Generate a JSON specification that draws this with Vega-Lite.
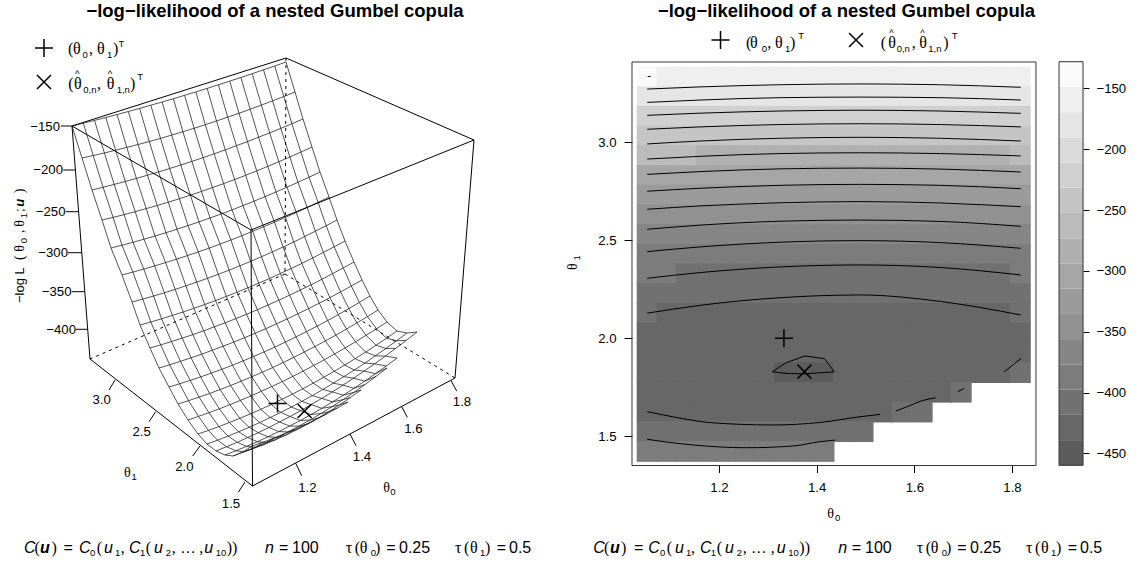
{"$schema":"https://vega.github.io/schema/vega-lite/v6.json","width":1144,"height":564,"autosize":"none","padding":0,"background":"white","config":{"view":{"stroke":null},"text":{"font":"Liberation Sans","color":"#000"}},
"datasets":{"grid":[
{"t0":1.053,"t1":3.333,"z":-148,"x":72,"y":126},{"t0":1.093,"t1":3.333,"z":-154,"x":83.3,"y":123.2},{"t0":1.133,"t1":3.333,"z":-155,"x":94.5,"y":120.4},{"t0":1.174,"t1":3.333,"z":-157,"x":105.8,"y":117.5},{"t0":1.214,"t1":3.333,"z":-158,"x":117.1,"y":114.5},{"t0":1.254,"t1":3.333,"z":-159,"x":128.3,"y":111.5},{"t0":1.294,"t1":3.333,"z":-159,"x":139.6,"y":108.4},{"t0":1.334,"t1":3.333,"z":-160,"x":150.8,"y":105.2},{"t0":1.375,"t1":3.333,"z":-160,"x":162.1,"y":102},{"t0":1.415,"t1":3.333,"z":-160,"x":173.4,"y":98.7},{"t0":1.455,"t1":3.333,"z":-160,"x":184.6,"y":95.3},{"t0":1.495,"t1":3.333,"z":-160,"x":195.9,"y":91.9},{"t0":1.535,"t1":3.333,"z":-159,"x":207.2,"y":88.4},{"t0":1.575,"t1":3.333,"z":-159,"x":218.4,"y":84.8},{"t0":1.616,"t1":3.333,"z":-158,"x":229.7,"y":81.1},{"t0":1.656,"t1":3.333,"z":-157,"x":240.9,"y":77.5},{"t0":1.696,"t1":3.333,"z":-156,"x":252.2,"y":73.7},{"t0":1.736,"t1":3.333,"z":-155,"x":263.5,"y":69.8},{"t0":1.776,"t1":3.333,"z":-153,"x":274.7,"y":66},{"t0":1.817,"t1":3.333,"z":-152,"x":286,"y":62},
{"t0":1.053,"t1":3.232,"z":-181,"x":82,"y":158},{"t0":1.093,"t1":3.232,"z":-183,"x":93.2,"y":155.5},{"t0":1.133,"t1":3.232,"z":-184,"x":104.4,"y":153},{"t0":1.174,"t1":3.232,"z":-186,"x":115.6,"y":150.2},{"t0":1.214,"t1":3.232,"z":-187,"x":126.8,"y":147.4},{"t0":1.254,"t1":3.232,"z":-188,"x":138.1,"y":144.5},{"t0":1.294,"t1":3.232,"z":-188,"x":149.3,"y":141.5},{"t0":1.334,"t1":3.232,"z":-189,"x":160.5,"y":138.4},{"t0":1.375,"t1":3.232,"z":-189,"x":171.7,"y":135.1},{"t0":1.415,"t1":3.232,"z":-189,"x":182.9,"y":131.7},{"t0":1.455,"t1":3.232,"z":-189,"x":194.1,"y":128.3},{"t0":1.495,"t1":3.232,"z":-189,"x":205.3,"y":124.7},{"t0":1.535,"t1":3.232,"z":-188,"x":216.5,"y":121},{"t0":1.575,"t1":3.232,"z":-188,"x":227.7,"y":117.1},{"t0":1.616,"t1":3.232,"z":-187,"x":239,"y":113.3},{"t0":1.656,"t1":3.232,"z":-186,"x":250.2,"y":109.2},{"t0":1.696,"t1":3.232,"z":-185,"x":261.4,"y":105.1},{"t0":1.736,"t1":3.232,"z":-184,"x":272.6,"y":100.8},{"t0":1.776,"t1":3.232,"z":-182,"x":283.8,"y":96.5},{"t0":1.817,"t1":3.232,"z":-181,"x":295,"y":92},
{"t0":1.053,"t1":3.132,"z":-213,"x":92,"y":190},{"t0":1.093,"t1":3.132,"z":-214,"x":103.1,"y":187.3},{"t0":1.133,"t1":3.132,"z":-216,"x":114.2,"y":184.4},{"t0":1.174,"t1":3.132,"z":-216,"x":125.3,"y":181.5},{"t0":1.214,"t1":3.132,"z":-217,"x":136.4,"y":178.4},{"t0":1.254,"t1":3.132,"z":-218,"x":147.5,"y":175.2},{"t0":1.294,"t1":3.132,"z":-218,"x":158.6,"y":171.9},{"t0":1.334,"t1":3.132,"z":-219,"x":169.7,"y":168.5},{"t0":1.375,"t1":3.132,"z":-219,"x":180.8,"y":165},{"t0":1.415,"t1":3.132,"z":-219,"x":191.9,"y":161.4},{"t0":1.455,"t1":3.132,"z":-219,"x":203.1,"y":157.6},{"t0":1.495,"t1":3.132,"z":-219,"x":214.2,"y":153.8},{"t0":1.535,"t1":3.132,"z":-218,"x":225.3,"y":149.9},{"t0":1.575,"t1":3.132,"z":-218,"x":236.4,"y":145.7},{"t0":1.616,"t1":3.132,"z":-217,"x":247.5,"y":141.6},{"t0":1.656,"t1":3.132,"z":-217,"x":258.6,"y":137.2},{"t0":1.696,"t1":3.132,"z":-216,"x":269.7,"y":132.9},{"t0":1.736,"t1":3.132,"z":-215,"x":280.8,"y":128.4},{"t0":1.776,"t1":3.132,"z":-214,"x":291.9,"y":123.7},{"t0":1.817,"t1":3.132,"z":-213,"x":303,"y":119},
{"t0":1.053,"t1":3.031,"z":-241,"x":102,"y":220},{"t0":1.093,"t1":3.031,"z":-243,"x":113.1,"y":217.4},{"t0":1.133,"t1":3.031,"z":-244,"x":124.1,"y":214.6},{"t0":1.174,"t1":3.031,"z":-246,"x":135.2,"y":211.7},{"t0":1.214,"t1":3.031,"z":-247,"x":146.2,"y":208.6},{"t0":1.254,"t1":3.031,"z":-248,"x":157.3,"y":205.5},{"t0":1.294,"t1":3.031,"z":-248,"x":168.3,"y":202.2},{"t0":1.334,"t1":3.031,"z":-249,"x":179.4,"y":198.7},{"t0":1.375,"t1":3.031,"z":-249,"x":190.4,"y":195.2},{"t0":1.415,"t1":3.031,"z":-249,"x":201.5,"y":191.4},{"t0":1.455,"t1":3.031,"z":-249,"x":212.5,"y":187.6},{"t0":1.495,"t1":3.031,"z":-249,"x":223.6,"y":183.6},{"t0":1.535,"t1":3.031,"z":-248,"x":234.6,"y":179.5},{"t0":1.575,"t1":3.031,"z":-248,"x":245.7,"y":175.3},{"t0":1.616,"t1":3.031,"z":-247,"x":256.7,"y":170.9},{"t0":1.656,"t1":3.031,"z":-246,"x":267.8,"y":166.4},{"t0":1.696,"t1":3.031,"z":-245,"x":278.8,"y":161.7},{"t0":1.736,"t1":3.031,"z":-244,"x":289.9,"y":157},{"t0":1.776,"t1":3.031,"z":-242,"x":300.9,"y":152},{"t0":1.817,"t1":3.031,"z":-241,"x":312,"y":147},
{"t0":1.053,"t1":2.931,"z":-272,"x":111,"y":248},{"t0":1.093,"t1":2.931,"z":-272,"x":122,"y":245.2},{"t0":1.133,"t1":2.931,"z":-272,"x":133,"y":242.3},{"t0":1.174,"t1":2.931,"z":-274,"x":144,"y":239.2},{"t0":1.214,"t1":2.931,"z":-274,"x":155,"y":236},{"t0":1.254,"t1":2.931,"z":-275,"x":166,"y":232.7},{"t0":1.294,"t1":2.931,"z":-276,"x":177,"y":229.2},{"t0":1.334,"t1":2.931,"z":-276,"x":188,"y":225.6},{"t0":1.375,"t1":2.931,"z":-276,"x":199,"y":221.9},{"t0":1.415,"t1":2.931,"z":-276,"x":210,"y":218},{"t0":1.455,"t1":2.931,"z":-276,"x":221,"y":214},{"t0":1.495,"t1":2.931,"z":-276,"x":232,"y":209.9},{"t0":1.535,"t1":2.931,"z":-276,"x":243,"y":205.6},{"t0":1.575,"t1":2.931,"z":-275,"x":254,"y":201.2},{"t0":1.616,"t1":2.931,"z":-275,"x":265,"y":196.7},{"t0":1.656,"t1":2.931,"z":-275,"x":276,"y":192},{"t0":1.696,"t1":2.931,"z":-274,"x":287,"y":187.2},{"t0":1.736,"t1":2.931,"z":-274,"x":298,"y":182.3},{"t0":1.776,"t1":2.931,"z":-274,"x":309,"y":177.2},{"t0":1.817,"t1":2.931,"z":-272,"x":320,"y":172},
{"t0":1.053,"t1":2.83,"z":-295,"x":122,"y":275},{"t0":1.093,"t1":2.83,"z":-297,"x":132.9,"y":272.1},{"t0":1.133,"t1":2.83,"z":-298,"x":143.8,"y":269.1},{"t0":1.174,"t1":2.83,"z":-299,"x":154.7,"y":265.9},{"t0":1.214,"t1":2.83,"z":-300,"x":165.6,"y":262.6},{"t0":1.254,"t1":2.83,"z":-301,"x":176.5,"y":259.2},{"t0":1.294,"t1":2.83,"z":-301,"x":187.4,"y":255.6},{"t0":1.334,"t1":2.83,"z":-302,"x":198.3,"y":251.9},{"t0":1.375,"t1":2.83,"z":-302,"x":209.2,"y":248.1},{"t0":1.415,"t1":2.83,"z":-302,"x":220.1,"y":244.1},{"t0":1.455,"t1":2.83,"z":-302,"x":230.9,"y":240},{"t0":1.495,"t1":2.83,"z":-302,"x":241.8,"y":235.7},{"t0":1.535,"t1":2.83,"z":-301,"x":252.7,"y":231.3},{"t0":1.575,"t1":2.83,"z":-301,"x":263.6,"y":226.8},{"t0":1.616,"t1":2.83,"z":-300,"x":274.5,"y":222.2},{"t0":1.656,"t1":2.83,"z":-299,"x":285.4,"y":217.4},{"t0":1.696,"t1":2.83,"z":-298,"x":296.3,"y":212.5},{"t0":1.736,"t1":2.83,"z":-297,"x":307.2,"y":207.5},{"t0":1.776,"t1":2.83,"z":-296,"x":318.1,"y":202.3},{"t0":1.817,"t1":2.83,"z":-295,"x":329,"y":197},
{"t0":1.053,"t1":2.73,"z":-319,"x":132,"y":302},{"t0":1.093,"t1":2.73,"z":-321,"x":142.8,"y":299.1},{"t0":1.133,"t1":2.73,"z":-322,"x":153.6,"y":296},{"t0":1.174,"t1":2.73,"z":-324,"x":164.4,"y":292.8},{"t0":1.214,"t1":2.73,"z":-325,"x":175.2,"y":289.4},{"t0":1.254,"t1":2.73,"z":-326,"x":185.9,"y":285.8},{"t0":1.294,"t1":2.73,"z":-326,"x":196.7,"y":282.1},{"t0":1.334,"t1":2.73,"z":-327,"x":207.5,"y":278.3},{"t0":1.375,"t1":2.73,"z":-327,"x":218.3,"y":274.3},{"t0":1.415,"t1":2.73,"z":-327,"x":229.1,"y":270.2},{"t0":1.455,"t1":2.73,"z":-327,"x":239.9,"y":265.8},{"t0":1.495,"t1":2.73,"z":-327,"x":250.7,"y":261.3},{"t0":1.535,"t1":2.73,"z":-326,"x":261.5,"y":256.7},{"t0":1.575,"t1":2.73,"z":-326,"x":272.3,"y":251.9},{"t0":1.616,"t1":2.73,"z":-325,"x":283.1,"y":247},{"t0":1.656,"t1":2.73,"z":-324,"x":293.8,"y":242},{"t0":1.696,"t1":2.73,"z":-323,"x":304.6,"y":236.6},{"t0":1.736,"t1":2.73,"z":-322,"x":315.4,"y":231.2},{"t0":1.776,"t1":2.73,"z":-320,"x":326.2,"y":225.7},{"t0":1.817,"t1":2.73,"z":-319,"x":337,"y":220},
{"t0":1.053,"t1":2.629,"z":-340,"x":140,"y":325},{"t0":1.093,"t1":2.629,"z":-342,"x":150.8,"y":322},{"t0":1.133,"t1":2.629,"z":-344,"x":161.6,"y":318.8},{"t0":1.174,"t1":2.629,"z":-346,"x":172.4,"y":315.4},{"t0":1.214,"t1":2.629,"z":-347,"x":183.2,"y":312},{"t0":1.254,"t1":2.629,"z":-348,"x":193.9,"y":308.3},{"t0":1.294,"t1":2.629,"z":-349,"x":204.7,"y":304.5},{"t0":1.334,"t1":2.629,"z":-350,"x":215.5,"y":300.6},{"t0":1.375,"t1":2.629,"z":-350,"x":226.3,"y":296.4},{"t0":1.415,"t1":2.629,"z":-350,"x":237.1,"y":292.2},{"t0":1.455,"t1":2.629,"z":-350,"x":247.9,"y":287.8},{"t0":1.495,"t1":2.629,"z":-349,"x":258.7,"y":283.2},{"t0":1.535,"t1":2.629,"z":-349,"x":269.5,"y":278.5},{"t0":1.575,"t1":2.629,"z":-348,"x":280.3,"y":273.5},{"t0":1.616,"t1":2.629,"z":-347,"x":291.1,"y":268.5},{"t0":1.656,"t1":2.629,"z":-346,"x":301.8,"y":263.4},{"t0":1.696,"t1":2.629,"z":-345,"x":312.6,"y":258},{"t0":1.736,"t1":2.629,"z":-343,"x":323.4,"y":252.4},{"t0":1.776,"t1":2.629,"z":-342,"x":334.2,"y":246.8},{"t0":1.817,"t1":2.629,"z":-340,"x":345,"y":241},
{"t0":1.053,"t1":2.529,"z":-359,"x":150,"y":348},{"t0":1.093,"t1":2.529,"z":-361,"x":160.7,"y":344.9},{"t0":1.133,"t1":2.529,"z":-363,"x":171.5,"y":341.5},{"t0":1.174,"t1":2.529,"z":-365,"x":182.2,"y":338.1},{"t0":1.214,"t1":2.529,"z":-366,"x":192.9,"y":334.6},{"t0":1.254,"t1":2.529,"z":-367,"x":203.7,"y":330.8},{"t0":1.294,"t1":2.529,"z":-368,"x":214.4,"y":326.8},{"t0":1.334,"t1":2.529,"z":-369,"x":225.2,"y":322.8},{"t0":1.375,"t1":2.529,"z":-369,"x":235.9,"y":318.6},{"t0":1.415,"t1":2.529,"z":-369,"x":246.6,"y":314.3},{"t0":1.455,"t1":2.529,"z":-369,"x":257.4,"y":309.7},{"t0":1.495,"t1":2.529,"z":-368,"x":268.1,"y":305},{"t0":1.535,"t1":2.529,"z":-368,"x":278.8,"y":300.2},{"t0":1.575,"t1":2.529,"z":-367,"x":289.6,"y":295.2},{"t0":1.616,"t1":2.529,"z":-366,"x":300.3,"y":290},{"t0":1.656,"t1":2.529,"z":-365,"x":311.1,"y":284.8},{"t0":1.696,"t1":2.529,"z":-364,"x":321.8,"y":279.3},{"t0":1.736,"t1":2.529,"z":-362,"x":332.5,"y":273.7},{"t0":1.776,"t1":2.529,"z":-361,"x":343.3,"y":267.9},{"t0":1.817,"t1":2.529,"z":-359,"x":354,"y":262},
{"t0":1.053,"t1":2.428,"z":-378,"x":159,"y":368},{"t0":1.093,"t1":2.428,"z":-380,"x":169.7,"y":364.8},{"t0":1.133,"t1":2.428,"z":-382,"x":180.4,"y":361.3},{"t0":1.174,"t1":2.428,"z":-383,"x":191.1,"y":357.8},{"t0":1.214,"t1":2.428,"z":-384,"x":201.7,"y":354.2},{"t0":1.254,"t1":2.428,"z":-385,"x":212.4,"y":350.2},{"t0":1.294,"t1":2.428,"z":-386,"x":223.1,"y":346.2},{"t0":1.334,"t1":2.428,"z":-387,"x":233.8,"y":342.1},{"t0":1.375,"t1":2.428,"z":-387,"x":244.5,"y":337.7},{"t0":1.415,"t1":2.428,"z":-387,"x":255.2,"y":333.3},{"t0":1.455,"t1":2.428,"z":-387,"x":265.8,"y":328.7},{"t0":1.495,"t1":2.428,"z":-386,"x":276.5,"y":323.8},{"t0":1.535,"t1":2.428,"z":-386,"x":287.2,"y":318.9},{"t0":1.575,"t1":2.428,"z":-385,"x":297.9,"y":313.8},{"t0":1.616,"t1":2.428,"z":-385,"x":308.6,"y":308.6},{"t0":1.656,"t1":2.428,"z":-384,"x":319.3,"y":303.2},{"t0":1.696,"t1":2.428,"z":-382,"x":329.9,"y":297.6},{"t0":1.736,"t1":2.428,"z":-381,"x":340.6,"y":291.9},{"t0":1.776,"t1":2.428,"z":-380,"x":351.3,"y":286},{"t0":1.817,"t1":2.428,"z":-378,"x":362,"y":280},
{"t0":1.053,"t1":2.328,"z":-394,"x":169,"y":387},{"t0":1.093,"t1":2.328,"z":-396,"x":179.6,"y":383.8},{"t0":1.133,"t1":2.328,"z":-398,"x":190.2,"y":380.4},{"t0":1.174,"t1":2.328,"z":-399,"x":200.7,"y":376.9},{"t0":1.214,"t1":2.328,"z":-400,"x":211.3,"y":373.1},{"t0":1.254,"t1":2.328,"z":-401,"x":221.9,"y":369.3},{"t0":1.294,"t1":2.328,"z":-402,"x":232.5,"y":365.2},{"t0":1.334,"t1":2.328,"z":-403,"x":243.1,"y":360.9},{"t0":1.375,"t1":2.328,"z":-403,"x":253.6,"y":356.5},{"t0":1.415,"t1":2.328,"z":-403,"x":264.2,"y":351.9},{"t0":1.455,"t1":2.328,"z":-403,"x":274.8,"y":347.1},{"t0":1.495,"t1":2.328,"z":-403,"x":285.4,"y":342.1},{"t0":1.535,"t1":2.328,"z":-402,"x":296,"y":336.9},{"t0":1.575,"t1":2.328,"z":-402,"x":306.5,"y":331.6},{"t0":1.616,"t1":2.328,"z":-401,"x":317.1,"y":326.2},{"t0":1.656,"t1":2.328,"z":-400,"x":327.7,"y":320.5},{"t0":1.696,"t1":2.328,"z":-400,"x":338.3,"y":314.7},{"t0":1.736,"t1":2.328,"z":-399,"x":348.8,"y":308.6},{"t0":1.776,"t1":2.328,"z":-398,"x":359.4,"y":302.4},{"t0":1.817,"t1":2.328,"z":-394,"x":370,"y":296},
{"t0":1.053,"t1":2.227,"z":-407,"x":178,"y":404},{"t0":1.093,"t1":2.227,"z":-409,"x":188.5,"y":400.7},{"t0":1.133,"t1":2.227,"z":-411,"x":199.1,"y":397.1},{"t0":1.174,"t1":2.227,"z":-412,"x":209.6,"y":393.5},{"t0":1.214,"t1":2.227,"z":-413,"x":220.1,"y":389.5},{"t0":1.254,"t1":2.227,"z":-414,"x":230.6,"y":385.5},{"t0":1.294,"t1":2.227,"z":-415,"x":241.2,"y":381.2},{"t0":1.334,"t1":2.227,"z":-416,"x":251.7,"y":376.8},{"t0":1.375,"t1":2.227,"z":-416,"x":262.2,"y":372.2},{"t0":1.415,"t1":2.227,"z":-416,"x":272.7,"y":367.5},{"t0":1.455,"t1":2.227,"z":-416,"x":283.3,"y":362.5},{"t0":1.495,"t1":2.227,"z":-415,"x":293.8,"y":357.4},{"t0":1.535,"t1":2.227,"z":-415,"x":304.3,"y":352},{"t0":1.575,"t1":2.227,"z":-414,"x":314.8,"y":346.6},{"t0":1.616,"t1":2.227,"z":-413,"x":325.4,"y":340.9},{"t0":1.656,"t1":2.227,"z":-412,"x":335.9,"y":335.1},{"t0":1.696,"t1":2.227,"z":-411,"x":346.4,"y":329.1},{"t0":1.736,"t1":2.227,"z":-410,"x":356.9,"y":322.9},{"t0":1.776,"t1":2.227,"z":-409,"x":367.5,"y":316.6},{"t0":1.817,"t1":2.227,"z":-407,"x":378,"y":310},
{"t0":1.053,"t1":2.127,"z":-417,"x":188,"y":420},{"t0":1.093,"t1":2.127,"z":-420,"x":198.5,"y":416.4},{"t0":1.133,"t1":2.127,"z":-421,"x":208.9,"y":412.7},{"t0":1.174,"t1":2.127,"z":-422,"x":219.4,"y":408.8},{"t0":1.214,"t1":2.127,"z":-423,"x":229.9,"y":404.7},{"t0":1.254,"t1":2.127,"z":-424,"x":240.4,"y":400.4},{"t0":1.294,"t1":2.127,"z":-425,"x":250.8,"y":396},{"t0":1.334,"t1":2.127,"z":-425,"x":261.3,"y":391.3},{"t0":1.375,"t1":2.127,"z":-425,"x":271.8,"y":386.5},{"t0":1.415,"t1":2.127,"z":-425,"x":282.3,"y":381.6},{"t0":1.455,"t1":2.127,"z":-425,"x":292.7,"y":376.4},{"t0":1.495,"t1":2.127,"z":-425,"x":303.2,"y":371.1},{"t0":1.535,"t1":2.127,"z":-424,"x":313.7,"y":365.5},{"t0":1.575,"t1":2.127,"z":-424,"x":324.2,"y":359.8},{"t0":1.616,"t1":2.127,"z":-423,"x":334.6,"y":354},{"t0":1.656,"t1":2.127,"z":-422,"x":345.1,"y":347.9},{"t0":1.696,"t1":2.127,"z":-421,"x":355.6,"y":341.8},{"t0":1.736,"t1":2.127,"z":-420,"x":366.1,"y":335.3},{"t0":1.776,"t1":2.127,"z":-420,"x":376.5,"y":328.8},{"t0":1.817,"t1":2.127,"z":-417,"x":387,"y":322},
{"t0":1.053,"t1":2.026,"z":-421,"x":198,"y":434},{"t0":1.093,"t1":2.026,"z":-423,"x":208.5,"y":430.4},{"t0":1.133,"t1":2.026,"z":-425,"x":218.9,"y":426.6},{"t0":1.174,"t1":2.026,"z":-427,"x":229.4,"y":422.5},{"t0":1.214,"t1":2.026,"z":-428,"x":239.9,"y":418.3},{"t0":1.254,"t1":2.026,"z":-429,"x":250.4,"y":413.9},{"t0":1.294,"t1":2.026,"z":-430,"x":260.8,"y":409.3},{"t0":1.334,"t1":2.026,"z":-431,"x":271.3,"y":404.5},{"t0":1.375,"t1":2.026,"z":-431,"x":281.8,"y":399.4},{"t0":1.415,"t1":2.026,"z":-431,"x":292.3,"y":394.2},{"t0":1.455,"t1":2.026,"z":-431,"x":302.7,"y":388.8},{"t0":1.495,"t1":2.026,"z":-430,"x":313.2,"y":383.2},{"t0":1.535,"t1":2.026,"z":-430,"x":323.7,"y":377.3},{"t0":1.575,"t1":2.026,"z":-429,"x":334.2,"y":371.3},{"t0":1.616,"t1":2.026,"z":-428,"x":344.6,"y":365.1},{"t0":1.656,"t1":2.026,"z":-427,"x":355.1,"y":358.7},{"t0":1.696,"t1":2.026,"z":-426,"x":365.6,"y":352.1},{"t0":1.736,"t1":2.026,"z":-424,"x":376.1,"y":345.2},{"t0":1.776,"t1":2.026,"z":-423,"x":386.5,"y":338.2},{"t0":1.817,"t1":2.026,"z":-421,"x":397,"y":331},
{"t0":1.053,"t1":1.926,"z":-424,"x":207,"y":444},{"t0":1.093,"t1":1.926,"z":-427,"x":217.5,"y":440.2},{"t0":1.133,"t1":1.926,"z":-429,"x":228.1,"y":436.1},{"t0":1.174,"t1":1.926,"z":-431,"x":238.6,"y":431.8},{"t0":1.214,"t1":1.926,"z":-433,"x":249.1,"y":427.3},{"t0":1.254,"t1":1.926,"z":-434,"x":259.6,"y":422.6},{"t0":1.294,"t1":1.926,"z":-435,"x":270.2,"y":417.5},{"t0":1.334,"t1":1.926,"z":-436,"x":280.7,"y":412.4},{"t0":1.375,"t1":1.926,"z":-436,"x":291.2,"y":407.1},{"t0":1.415,"t1":1.926,"z":-436,"x":301.7,"y":401.4},{"t0":1.455,"t1":1.926,"z":-436,"x":312.3,"y":395.6},{"t0":1.495,"t1":1.926,"z":-435,"x":322.8,"y":389.5},{"t0":1.535,"t1":1.926,"z":-435,"x":333.3,"y":383.2},{"t0":1.575,"t1":1.926,"z":-434,"x":343.8,"y":376.6},{"t0":1.616,"t1":1.926,"z":-433,"x":354.4,"y":370},{"t0":1.656,"t1":1.926,"z":-431,"x":364.9,"y":363.1},{"t0":1.696,"t1":1.926,"z":-430,"x":375.4,"y":355.8},{"t0":1.736,"t1":1.926,"z":-428,"x":385.9,"y":348.5},{"t0":1.776,"t1":1.926,"z":-426,"x":396.5,"y":340.8},{"t0":1.817,"t1":1.926,"z":-424,"x":407,"y":333},
{"t0":1.053,"t1":1.825,"z":-424,"x":216,"y":451},{"t0":1.093,"t1":1.825,"z":-426,"x":226.6,"y":446.7},{"t0":1.133,"t1":1.825,"z":-428,"x":237.2,"y":442.3},{"t0":1.174,"t1":1.825,"z":-431,"x":247.7,"y":437.5},{"t0":1.214,"t1":1.825,"z":-433,"x":258.3,"y":432.7},{"t0":1.254,"t1":1.825,"z":-435,"x":268.9,"y":427.5},{"t0":1.294,"t1":1.825,"z":-438,"x":279.5,"y":422},{"t0":1.334,"t1":1.825,"z":-440,"x":290.1,"y":416.5},{"t0":1.375,"t1":1.825,"z":-441,"x":300.6,"y":410.7},{"t0":1.415,"t1":1.825,"z":-440,"x":311.2,"y":404.6},{"t0":1.455,"t1":1.825,"z":-438,"x":321.8,"y":398.4},{"t0":1.495,"t1":1.825,"z":-436,"x":332.4,"y":391.9},{"t0":1.535,"t1":1.825,"z":-435,"x":343,"y":385.1},{"t0":1.575,"t1":1.825,"z":-434,"x":353.5,"y":378.2},{"t0":1.616,"t1":1.825,"z":-432,"x":364.1,"y":371.1},{"t0":1.656,"t1":1.825,"z":-430,"x":374.7,"y":363.8},{"t0":1.696,"t1":1.825,"z":-428,"x":385.3,"y":356.1},{"t0":1.736,"t1":1.825,"z":-425,"x":395.8,"y":348.3},{"t0":1.776,"t1":1.825,"z":-420,"x":406.4,"y":340.3},{"t0":1.817,"t1":1.825,"z":-416,"x":417,"y":332},
{"t0":1.053,"t1":1.725,"z":-420,"x":225,"y":455},{"t0":1.093,"t1":1.725,"z":-423,"x":235.8,"y":450.8},{"t0":1.133,"t1":1.725,"z":-426,"x":246.5,"y":446.4},{"t0":1.174,"t1":1.725,"z":-428,"x":257.3,"y":441.7},{"t0":1.214,"t1":1.725,"z":-430,"x":268,"y":436.8},{"t0":1.254,"t1":1.725,"z":-432,"x":278.8,"y":431.6},{"t0":1.294,"t1":1.725,"z":-433,"x":289.5,"y":426.1},{"t0":1.334,"t1":1.725,"z":-434,"x":300.3,"y":420.5},{"t0":1.375,"t1":1.725,"z":-435,"x":311,"y":414.5},{"t0":1.415,"t1":1.725,"z":-435,"x":321.8,"y":408.3},{"t0":1.455,"t1":1.725,"z":-434,"x":332.5,"y":401.9},{"t0":1.495,"t1":1.725,"z":-433,"x":343.3,"y":395.2},{"t0":1.535,"t1":1.725,"z":-431,"x":354,"y":388.3},{"t0":1.575,"t1":1.725,"z":-429,"x":364.8,"y":381.1},{"t0":1.616,"t1":1.725,"z":-427,"x":375.5,"y":373.6},{"t0":1.656,"t1":1.725,"z":-424,"x":386.3,"y":366},{"t0":1.696,"t1":1.725,"z":-417,"x":397,"y":358},
{"t0":1.053,"t1":1.624,"z":-419,"x":233,"y":456},{"t0":1.093,"t1":1.624,"z":-420,"x":244,"y":451.8},{"t0":1.133,"t1":1.624,"z":-421,"x":255,"y":447.3},{"t0":1.174,"t1":1.624,"z":-422,"x":266,"y":442.5},{"t0":1.214,"t1":1.624,"z":-423,"x":277,"y":437.4},{"t0":1.254,"t1":1.624,"z":-423,"x":288,"y":431.9},{"t0":1.294,"t1":1.624,"z":-424,"x":299,"y":426.1},{"t0":1.334,"t1":1.624,"z":-424,"x":310,"y":420},{"t0":1.375,"t1":1.624,"z":-424,"x":321,"y":413.5},{"t0":1.415,"t1":1.624,"z":-423,"x":332,"y":406.7},{"t0":1.455,"t1":1.624,"z":-422,"x":343,"y":399.6},{"t0":1.495,"t1":1.624,"z":-421,"x":354,"y":392.3},{"t0":1.535,"t1":1.624,"z":-420,"x":365,"y":384.5},{"t0":1.575,"t1":1.624,"z":-417,"x":376,"y":376.4},{"t0":1.616,"t1":1.624,"z":-414,"x":387,"y":368},
{"t0":1.053,"t1":1.524,"z":-404,"x":243,"y":452},{"t0":1.093,"t1":1.524,"z":-406,"x":253.7,"y":448.4},{"t0":1.133,"t1":1.524,"z":-408,"x":264.5,"y":444.3},{"t0":1.174,"t1":1.524,"z":-409,"x":275.2,"y":439.9},{"t0":1.214,"t1":1.524,"z":-410,"x":285.9,"y":435.1},{"t0":1.254,"t1":1.524,"z":-411,"x":296.6,"y":429.8},{"t0":1.294,"t1":1.524,"z":-412,"x":307.4,"y":424.2},{"t0":1.334,"t1":1.524,"z":-412,"x":318.1,"y":418.1},{"t0":1.375,"t1":1.524,"z":-412,"x":328.8,"y":411.7},{"t0":1.415,"t1":1.524,"z":-411,"x":339.5,"y":404.9},{"t0":1.455,"t1":1.524,"z":-410,"x":350.3,"y":397.6},{"t0":1.495,"t1":1.524,"z":-409,"x":361,"y":390},
{"t0":1.053,"t1":1.423,"z":-382,"x":252,"y":446},{"t0":1.093,"t1":1.423,"z":-384,"x":262.7,"y":442.3},{"t0":1.133,"t1":1.423,"z":-386,"x":273.3,"y":438.3},{"t0":1.174,"t1":1.423,"z":-388,"x":284,"y":434},{"t0":1.214,"t1":1.423,"z":-390,"x":294.7,"y":429.4},{"t0":1.254,"t1":1.423,"z":-392,"x":305.3,"y":424.6},{"t0":1.294,"t1":1.423,"z":-392,"x":316,"y":419.4},{"t0":1.334,"t1":1.423,"z":-392,"x":326.7,"y":413.9},{"t0":1.375,"t1":1.423,"z":-391,"x":337.3,"y":408.1},{"t0":1.415,"t1":1.423,"z":-390,"x":348,"y":402}
],
"contours":[
{"id":"a1","t0":1.053,"t1":3.271},{"id":"a1","t0":1.161,"t1":3.282},{"id":"a1","t0":1.325,"t1":3.293},{"id":"a1","t0":1.489,"t1":3.297},{"id":"a1","t0":1.653,"t1":3.293},{"id":"a1","t0":1.818,"t1":3.28},
{"id":"a2","t0":1.053,"t1":3.203},{"id":"a2","t0":1.161,"t1":3.215},{"id":"a2","t0":1.325,"t1":3.227},{"id":"a2","t0":1.489,"t1":3.23},{"id":"a2","t0":1.653,"t1":3.227},{"id":"a2","t0":1.818,"t1":3.215},
{"id":"a3","t0":1.053,"t1":3.137},{"id":"a3","t0":1.161,"t1":3.148},{"id":"a3","t0":1.325,"t1":3.159},{"id":"a3","t0":1.489,"t1":3.163},{"id":"a3","t0":1.653,"t1":3.159},{"id":"a3","t0":1.818,"t1":3.147},
{"id":"a4","t0":1.053,"t1":3.066},{"id":"a4","t0":1.161,"t1":3.078},{"id":"a4","t0":1.325,"t1":3.09},{"id":"a4","t0":1.489,"t1":3.094},{"id":"a4","t0":1.653,"t1":3.09},{"id":"a4","t0":1.818,"t1":3.078},
{"id":"a5","t0":1.053,"t1":2.991},{"id":"a5","t0":1.161,"t1":3.006},{"id":"a5","t0":1.325,"t1":3.02},{"id":"a5","t0":1.489,"t1":3.025},{"id":"a5","t0":1.653,"t1":3.02},{"id":"a5","t0":1.818,"t1":3.006},
{"id":"a6","t0":1.053,"t1":2.914},{"id":"a6","t0":1.161,"t1":2.928},{"id":"a6","t0":1.325,"t1":2.942},{"id":"a6","t0":1.489,"t1":2.946},{"id":"a6","t0":1.653,"t1":2.942},{"id":"a6","t0":1.818,"t1":2.93},
{"id":"a7","t0":1.053,"t1":2.836},{"id":"a7","t0":1.161,"t1":2.85},{"id":"a7","t0":1.325,"t1":2.864},{"id":"a7","t0":1.489,"t1":2.868},{"id":"a7","t0":1.653,"t1":2.863},{"id":"a7","t0":1.818,"t1":2.848},
{"id":"a8","t0":1.053,"t1":2.75},{"id":"a8","t0":1.161,"t1":2.765},{"id":"a8","t0":1.325,"t1":2.78},{"id":"a8","t0":1.489,"t1":2.785},{"id":"a8","t0":1.653,"t1":2.78},{"id":"a8","t0":1.818,"t1":2.763},
{"id":"a9","t0":1.053,"t1":2.658},{"id":"a9","t0":1.161,"t1":2.675},{"id":"a9","t0":1.325,"t1":2.691},{"id":"a9","t0":1.489,"t1":2.697},{"id":"a9","t0":1.653,"t1":2.69},{"id":"a9","t0":1.818,"t1":2.671},
{"id":"a10","t0":1.053,"t1":2.556},{"id":"a10","t0":1.161,"t1":2.577},{"id":"a10","t0":1.325,"t1":2.597},{"id":"a10","t0":1.489,"t1":2.603},{"id":"a10","t0":1.653,"t1":2.596},{"id":"a10","t0":1.818,"t1":2.571},
{"id":"a11","t0":1.053,"t1":2.442},{"id":"a11","t0":1.161,"t1":2.466},{"id":"a11","t0":1.325,"t1":2.49},{"id":"a11","t0":1.489,"t1":2.498},{"id":"a11","t0":1.653,"t1":2.488},{"id":"a11","t0":1.818,"t1":2.459},
{"id":"a12","t0":1.053,"t1":2.306},{"id":"a12","t0":1.161,"t1":2.335},{"id":"a12","t0":1.325,"t1":2.364},{"id":"a12","t0":1.489,"t1":2.374},{"id":"a12","t0":1.653,"t1":2.361},{"id":"a12","t0":1.818,"t1":2.323},
{"id":"a13","t0":1.053,"t1":2.128},{"id":"a13","t0":1.161,"t1":2.168},{"id":"a13","t0":1.325,"t1":2.207},{"id":"a13","t0":1.489,"t1":2.221},{"id":"a13","t0":1.653,"t1":2.188},{"id":"a13","t0":1.818,"t1":2.119},
{"id":"b1","t0":1.053,"t1":1.626},{"id":"b1","t0":1.12,"t1":1.593},{"id":"b1","t0":1.182,"t1":1.57},{"id":"b1","t0":1.311,"t1":1.558},{"id":"b1","t0":1.407,"t1":1.571},{"id":"b1","t0":1.489,"t1":1.6},{"id":"b1","t0":1.53,"t1":1.612},
{"id":"b2","t0":1.562,"t1":1.629},{"id":"b2","t0":1.591,"t1":1.657},{"id":"b2","t0":1.616,"t1":1.682},{"id":"b2","t0":1.644,"t1":1.697},
{"id":"b3","t0":1.689,"t1":1.728},{"id":"b3","t0":1.702,"t1":1.745},
{"id":"b4","t0":1.784,"t1":1.829},{"id":"b4","t0":1.819,"t1":1.898},
{"id":"c1","t0":1.053,"t1":1.485},{"id":"c1","t0":1.147,"t1":1.456},{"id":"c1","t0":1.257,"t1":1.442},{"id":"c1","t0":1.352,"t1":1.451},{"id":"c1","t0":1.407,"t1":1.473},{"id":"c1","t0":1.438,"t1":1.481},
{"id":"d1","t0":1.054,"t1":3.335},{"id":"d1","t0":1.06,"t1":3.335}
],
"oval":[{"n":1,"t0":1.309,"t1":1.829},{"n":2,"t0":1.337,"t1":1.875},{"n":3,"t0":1.376,"t1":1.91},{"n":4,"t0":1.416,"t1":1.896},{"n":5,"t0":1.436,"t1":1.829},{"n":6,"t0":1.376,"t1":1.819},{"n":7,"t0":1.337,"t1":1.821},{"n":8,"t0":1.309,"t1":1.829}],
"bands":[{"lo":-459.8,"hi":-439.1,"mid":-449},{"lo":-439.1,"hi":-418.3,"mid":-429},{"lo":-418.3,"hi":-397.6,"mid":-408},{"lo":-397.6,"hi":-376.8,"mid":-387},{"lo":-376.8,"hi":-356.1,"mid":-366},{"lo":-356.1,"hi":-335.4,"mid":-346},{"lo":-335.4,"hi":-314.7,"mid":-325},{"lo":-314.7,"hi":-293.9,"mid":-304},{"lo":-293.9,"hi":-273.2,"mid":-284},{"lo":-273.2,"hi":-252.5,"mid":-263},{"lo":-252.5,"hi":-231.7,"mid":-242},{"lo":-231.7,"hi":-211,"mid":-221},{"lo":-211,"hi":-190.3,"mid":-201},{"lo":-190.3,"hi":-169.6,"mid":-180},{"lo":-169.6,"hi":-148.8,"mid":-159},{"lo":-148.8,"hi":-128.1,"mid":-138}]
},
"layer":[
{"encoding":{"x":{"field":"t0","type":"quantitative","title":null,"scale":{"domain":[-0.2725,2.0704],"nice":false,"zero":false},"axis":{"orient":"bottom","offset":-98.5,"values":[1.2,1.4,1.6,1.8],"format":".1f","domain":false,"grid":false,"tickSize":7,"tickColor":"#000","labelColor":"#000","labelFont":"Liberation Sans","labelFontSize":13.2,"labelPadding":9,"labelFlush":false,"labelOverlap":false,"title":null}},"y":{"field":"t1","type":"quantitative","title":null,"scale":{"domain":[0.8491,3.7251],"nice":false,"zero":false},"axis":{"orient":"left","offset":-632,"values":[1.5,2,2.5,3],"format":".1f","domain":false,"grid":false,"tickSize":8,"tickColor":"#000","labelColor":"#000","labelFont":"Liberation Sans","labelFontSize":13.2,"labelPadding":8,"labelOverlap":false,"title":null}}},
"layer":[
{"data":{"name":"grid"},"mark":{"type":"rect","width":21,"height":20.8},"encoding":{"color":{"field":"z","type":"quantitative","legend":null,"scale":{"type":"threshold","domain":[-439.1,-418.3,-397.6,-376.8,-356.1,-335.4,-314.7,-293.9,-273.2,-252.5,-231.7,-211,-190.3,-169.6,-148.8],"range":["#5c5c5c","#676767","#717171","#7c7c7c","#868686","#919191","#9b9b9b","#a6a6a6","#b0b0b0","#bbbbbb","#c5c5c5","#d0d0d0","#dadada","#e5e5e5","#efefef","#fafafa"]}}}},
{"data":{"name":"contours"},"mark":{"type":"line","interpolate":"monotone","color":"#000","strokeWidth":1},"encoding":{"detail":{"field":"id"},"order":{"field":"t0"}}},
{"data":{"name":"oval"},"mark":{"type":"line","color":"#000","strokeWidth":1},"encoding":{"order":{"field":"n"}}},
{"data":{"values":[{"t0":1.0218,"t1":1.3513,"t0e":1.8492,"t1e":3.409}]},"mark":{"type":"rect","fillOpacity":0,"stroke":"#333","strokeWidth":1},"encoding":{"x2":{"field":"t0e"},"y2":{"field":"t1e"}}},
{"data":{"values":[{"t0":1.333,"t1":2.0}]},"mark":{"type":"point","shape":"M-1,0L1,0M0,-1L0,1","size":324,"stroke":"#000","strokeWidth":1.5,"opacity":1,"filled":false}},
{"data":{"values":[{"t0":1.375,"t1":1.83}]},"mark":{"type":"point","shape":"M-1,-1L1,1M-1,1L1,-1","size":196,"stroke":"#000","strokeWidth":1.5,"opacity":1,"filled":false}}
]},
{"encoding":{"y":{"field":"lo","type":"quantitative","title":null,"scale":{"domain":[-540.9,-77.4],"nice":false,"zero":false},"axis":{"orient":"right","offset":-61,"values":[-150,-200,-250,-300,-350,-400,-450],"domain":false,"grid":false,"tickSize":6,"tickColor":"#000","labelColor":"#000","labelFont":"Liberation Sans","labelFontSize":13.2,"labelPadding":7,"labelOverlap":false,"title":null}},"y2":{"field":"hi"},"x":{"datum":0,"type":"quantitative","title":null,"axis":null,"scale":{"domain":[-44.125,3.54],"nice":false,"zero":false}},"x2":{"datum":1}},
"data":{"name":"bands"},
"layer":[
{"mark":{"type":"rect"},"encoding":{"color":{"field":"mid","type":"quantitative","legend":null,"scale":{"type":"threshold","domain":[-439.1,-418.3,-397.6,-376.8,-356.1,-335.4,-314.7,-293.9,-273.2,-252.5,-231.7,-211,-190.3,-169.6,-148.8],"range":["#5c5c5c","#676767","#717171","#7c7c7c","#868686","#919191","#9b9b9b","#a6a6a6","#b0b0b0","#bbbbbb","#c5c5c5","#d0d0d0","#dadada","#e5e5e5","#efefef","#fafafa"]}}}},
{"data":{"values":[{"lo":-459.8,"hi":-128.1}]},"mark":{"type":"rect","fillOpacity":0,"stroke":"#333","strokeWidth":1}}
]},
{"encoding":{"x":{"field":"x","type":"quantitative","title":null,"axis":null,"scale":{"domain":[0,1144],"nice":false,"zero":false}},"y":{"field":"y","type":"quantitative","title":null,"axis":null,"scale":{"domain":[564,0],"nice":false,"zero":false}}},
"layer":[
{"data":{"name":"grid"},"mark":{"type":"line","color":"#1a1a1a","strokeWidth":0.75},"encoding":{"detail":{"field":"t1"},"order":{"field":"t0"}}},
{"data":{"name":"grid"},"mark":{"type":"line","color":"#1a1a1a","strokeWidth":0.75},"encoding":{"detail":{"field":"t0"},"order":{"field":"t1"}}},
{"data":{"values":[{"x":72,"y":126,"xe":286,"ye":58},{"x":286,"y":58,"xe":474,"ye":140},{"x":72,"y":126,"xe":251,"ye":230},{"x":251,"y":230,"xe":474,"ye":140},{"x":72,"y":126,"xe":90,"ye":359},{"x":474,"y":140,"xe":455,"ye":378},{"x":251,"y":230,"xe":252.5,"ye":486},{"x":90,"y":359,"xe":252.5,"ye":486},{"x":252.5,"y":486,"xe":455,"ye":378},
{"x":72,"y":126,"xe":61,"ye":126},{"x":75.4,"y":170,"xe":63.3,"ye":170},{"x":78.6,"y":211.7,"xe":65.7,"ye":211.7},{"x":81.8,"y":252.7,"xe":68,"ye":252.7},{"x":84.8,"y":291.7,"xe":71.7,"ye":291.7},{"x":87.8,"y":329.3,"xe":76,"ye":329.3},
{"x":245,"y":482,"xe":238.3,"ye":492.3},{"x":200,"y":446,"xe":192.7,"ye":456},{"x":155.7,"y":411.7,"xe":149,"ye":421.7},{"x":115,"y":380,"xe":109,"ye":390},
{"x":295.7,"y":463.3,"xe":301.7,"ye":475.7},{"x":350,"y":434,"xe":356,"ye":445.7},{"x":401.7,"y":406.7,"xe":407.3,"ye":417.3},{"x":451,"y":380.7,"xe":456.7,"ye":391}]},"mark":{"type":"rule","color":"#000","strokeWidth":1},"encoding":{"x2":{"field":"xe"},"y2":{"field":"ye"}}},
{"data":{"values":[{"x":286,"y":58,"xe":285,"ye":274},{"x":285,"y":274,"xe":90,"ye":359},{"x":285,"y":274,"xe":455,"ye":378}]},"mark":{"type":"rule","color":"#000","strokeWidth":1,"strokeDash":[3,4]},"encoding":{"x2":{"field":"xe"},"y2":{"field":"ye"}}},
{"data":{"values":[{"x":277.5,"y":403.5},{"x":44,"y":48},{"x":720.5,"y":40}]},"mark":{"type":"point","shape":"M-1,0L1,0M0,-1L0,1","size":324,"stroke":"#000","strokeWidth":1.5,"opacity":1,"filled":false}},
{"data":{"values":[{"x":304.6,"y":411},{"x":44,"y":82},{"x":856,"y":40}]},"mark":{"type":"point","shape":"M-1,-1L1,1M-1,1L1,-1","size":196,"stroke":"#000","strokeWidth":1.5,"opacity":1,"filled":false}},
{"data":{"values":[{"x":275,"y":16.5,"t":"−log−likelihood of a nested Gumbel copula"},{"x":846.5,"y":16.5,"t":"−log−likelihood of a nested Gumbel copula"}]},"mark":{"type":"text","align":"center","baseline":"alphabetic","font":"Liberation Sans","fontWeight":"bold","fontSize":18.5},"encoding":{"text":{"field":"t"}}},
{"data":{"values":[{"x":231,"y":504.3,"t":"1.5"},{"x":184.3,"y":467.3,"t":"2.0"},{"x":141.7,"y":432.3,"t":"2.5"},{"x":101.7,"y":400,"t":"3.0"},{"x":307.3,"y":488.3,"t":"1.2"},{"x":362,"y":457.3,"t":"1.4"},{"x":413.3,"y":429,"t":"1.6"},{"x":462,"y":402.3,"t":"1.8"}]},"mark":{"type":"text","align":"center","baseline":"middle","font":"Liberation Sans","fontSize":13.2},"encoding":{"text":{"field":"t"}}},
{"data":{"values":[{"x":60,"y":127,"t":"−150"},{"x":63,"y":170,"t":"−200"},{"x":65.5,"y":212,"t":"−250"},{"x":68,"y":253,"t":"−300"},{"x":71.5,"y":292,"t":"−350"},{"x":76,"y":329.5,"t":"−400"}]},"mark":{"type":"text","align":"right","baseline":"middle","font":"Liberation Sans","fontSize":13.2},"encoding":{"text":{"field":"t"}}},
{"data":{"values":[{"x":68,"y":54,"t":"("},{"x":73,"y":54,"t":"θ"},{"x":89,"y":54,"t":","},{"x":97,"y":54,"t":"θ"},{"x":113,"y":54,"t":")"},{"x":68.3,"y":89,"t":"("},{"x":74,"y":89,"t":"θ"},{"x":97,"y":89,"t":","},{"x":106.7,"y":89,"t":"θ"},{"x":130,"y":89,"t":")"},{"x":746,"y":48,"t":"("},{"x":750,"y":48,"t":"θ"},{"x":767.3,"y":48,"t":","},{"x":775,"y":48,"t":"θ"},{"x":790,"y":48,"t":")"},{"x":880.7,"y":48,"t":"("},{"x":888.3,"y":48,"t":"θ"},{"x":911.7,"y":48,"t":","},{"x":919.3,"y":48,"t":"θ"},{"x":943.3,"y":48,"t":")"},
{"x":34.5,"y":553,"t":"("},{"x":51.5,"y":553,"t":")"},{"x":96.7,"y":553,"t":"("},{"x":120.7,"y":553,"t":","},{"x":145.7,"y":553,"t":"("},{"x":171.7,"y":553,"t":","},{"x":199.3,"y":553,"t":","},{"x":226.7,"y":553,"t":"))"},{"x":345.7,"y":553,"t":"τ"},{"x":354.7,"y":553,"t":"("},{"x":359.7,"y":553,"t":"θ"},{"x":375,"y":553,"t":")"},{"x":455,"y":553,"t":"τ"},{"x":464,"y":553,"t":"("},{"x":470,"y":553,"t":"θ"},{"x":485,"y":553,"t":")"},
{"x":604,"y":553,"t":"("},{"x":621,"y":553,"t":")"},{"x":666.7,"y":553,"t":"("},{"x":691,"y":553,"t":","},{"x":716.7,"y":553,"t":"("},{"x":742.7,"y":553,"t":","},{"x":770.7,"y":553,"t":","},{"x":799.3,"y":553,"t":"))"},{"x":916.7,"y":553,"t":"τ"},{"x":925.7,"y":553,"t":"("},{"x":930.7,"y":553,"t":"θ"},{"x":946,"y":553,"t":")"},{"x":1026,"y":553,"t":"τ"},{"x":1035,"y":553,"t":"("},{"x":1041,"y":553,"t":"θ"},{"x":1056,"y":553,"t":")"}]},"mark":{"type":"text","align":"left","baseline":"alphabetic","font":"Liberation Serif","fontSize":16},"encoding":{"text":{"field":"t"}}},
{"data":{"values":[{"x":124,"y":477,"t":"θ"},{"x":383.3,"y":491.7,"t":"θ"},{"x":827.3,"y":518,"t":"θ"}]},"mark":{"type":"text","align":"left","baseline":"alphabetic","font":"Liberation Serif","fontSize":14},"encoding":{"text":{"field":"t"}}},
{"data":{"values":[{"x":63.5,"y":553,"t":"="},{"x":180,"y":553,"t":"…"},{"x":279,"y":553,"t":"="},{"x":292,"y":553,"t":"100"},{"x":386.3,"y":553,"t":"="},{"x":399,"y":553,"t":"0.25"},{"x":496.7,"y":553,"t":"="},{"x":509,"y":553,"t":"0.5"},{"x":634,"y":553,"t":"="},{"x":750.7,"y":553,"t":"…"},{"x":851.7,"y":553,"t":"="},{"x":865,"y":553,"t":"100"},{"x":957.3,"y":553,"t":"="},{"x":970,"y":553,"t":"0.25"},{"x":1067.7,"y":553,"t":"="},{"x":1080,"y":553,"t":"0.5"}]},"mark":{"type":"text","align":"left","baseline":"alphabetic","font":"Liberation Sans","fontSize":16},"encoding":{"text":{"field":"t"}}},
{"data":{"values":[{"x":24,"y":553,"t":"C"},{"x":79,"y":553,"t":"C"},{"x":104,"y":553,"t":"u"},{"x":129,"y":553,"t":"C"},{"x":154,"y":553,"t":"u"},{"x":204.3,"y":553,"t":"u"},{"x":265,"y":553,"t":"n"},{"x":593.3,"y":553,"t":"C"},{"x":648.3,"y":553,"t":"C"},{"x":675,"y":553,"t":"u"},{"x":700,"y":553,"t":"C"},{"x":725,"y":553,"t":"u"},{"x":776.7,"y":553,"t":"u"},{"x":838.3,"y":553,"t":"n"}]},"mark":{"type":"text","align":"left","baseline":"alphabetic","font":"Liberation Sans","fontStyle":"italic","fontSize":16},"encoding":{"text":{"field":"t"}}},
{"data":{"values":[{"x":40,"y":553,"t":"u"},{"x":610,"y":553,"t":"u"}]},"mark":{"type":"text","align":"left","baseline":"alphabetic","font":"Liberation Sans","fontStyle":"italic","fontWeight":"bold","fontSize":16},"encoding":{"text":{"field":"t"}}},
{"data":{"values":[{"x":90,"y":556,"t":"0"},{"x":115,"y":556,"t":"1"},{"x":140,"y":556,"t":"1"},{"x":165.7,"y":556,"t":"2"},{"x":215.7,"y":556,"t":"10"},{"x":370.7,"y":556,"t":"0"},{"x":480,"y":556,"t":"1"},{"x":660,"y":556,"t":"0"},{"x":686,"y":556,"t":"1"},{"x":710.7,"y":556,"t":"1"},{"x":736.7,"y":556,"t":"2"},{"x":788.3,"y":556,"t":"10"},{"x":941.7,"y":556,"t":"0"},{"x":1051,"y":556,"t":"1"},
{"x":82.5,"y":57.5,"t":"0"},{"x":107,"y":57.5,"t":"1"},{"x":118.5,"y":46.7,"t":"T"},{"x":83.3,"y":92.7,"t":"0,n"},{"x":116.7,"y":92.7,"t":"1,n"},{"x":137.3,"y":80,"t":"T"},{"x":761.7,"y":51.5,"t":"0"},{"x":785,"y":51.5,"t":"1"},{"x":798.3,"y":39,"t":"T"},{"x":896.7,"y":51.5,"t":"0,n"},{"x":928.3,"y":51.5,"t":"1,n"},{"x":951.7,"y":39,"t":"T"},{"x":131.5,"y":479.7,"t":"1"},{"x":390.3,"y":494.7,"t":"0"},{"x":835,"y":521,"t":"0"},
{"x":75,"y":76.5,"t":"^"},{"x":107.7,"y":76.5,"t":"^"},{"x":889.3,"y":36,"t":"^"},{"x":920.3,"y":36,"t":"^"}]},"mark":{"type":"text","align":"left","baseline":"alphabetic","font":"Liberation Sans","fontSize":9.5},"encoding":{"text":{"field":"t"}}},
{"data":{"values":[{"x":24,"y":303,"t":"−log L"},{"x":24,"y":212,"t":";"}]},"mark":{"type":"text","align":"left","baseline":"alphabetic","angle":270,"font":"Liberation Sans","fontSize":13},"encoding":{"text":{"field":"t"}}},
{"data":{"values":[{"x":24,"y":260,"t":"("},{"x":24,"y":251.7,"t":"θ"},{"x":24,"y":233,"t":","},{"x":24,"y":226.7,"t":"θ"},{"x":24,"y":193.3,"t":")"},{"x":577,"y":270,"t":"θ"}]},"mark":{"type":"text","align":"left","baseline":"alphabetic","angle":270,"font":"Liberation Serif","fontSize":14},"encoding":{"text":{"field":"t"}}},
{"data":{"values":[{"x":27,"y":243.3,"t":"0"},{"x":27,"y":218.3,"t":"1"},{"x":580,"y":260.5,"t":"1"}]},"mark":{"type":"text","align":"left","baseline":"alphabetic","angle":270,"font":"Liberation Sans","fontSize":9.5},"encoding":{"text":{"field":"t"}}},
{"data":{"values":[{"x":24,"y":206.7,"t":"u"}]},"mark":{"type":"text","align":"left","baseline":"alphabetic","angle":270,"font":"Liberation Sans","fontStyle":"italic","fontWeight":"bold","fontSize":13},"encoding":{"text":{"field":"t"}}}
]}
],
"resolve":{"scale":{"x":"independent","y":"independent","color":"independent"},"axis":{"x":"independent","y":"independent"}}}
